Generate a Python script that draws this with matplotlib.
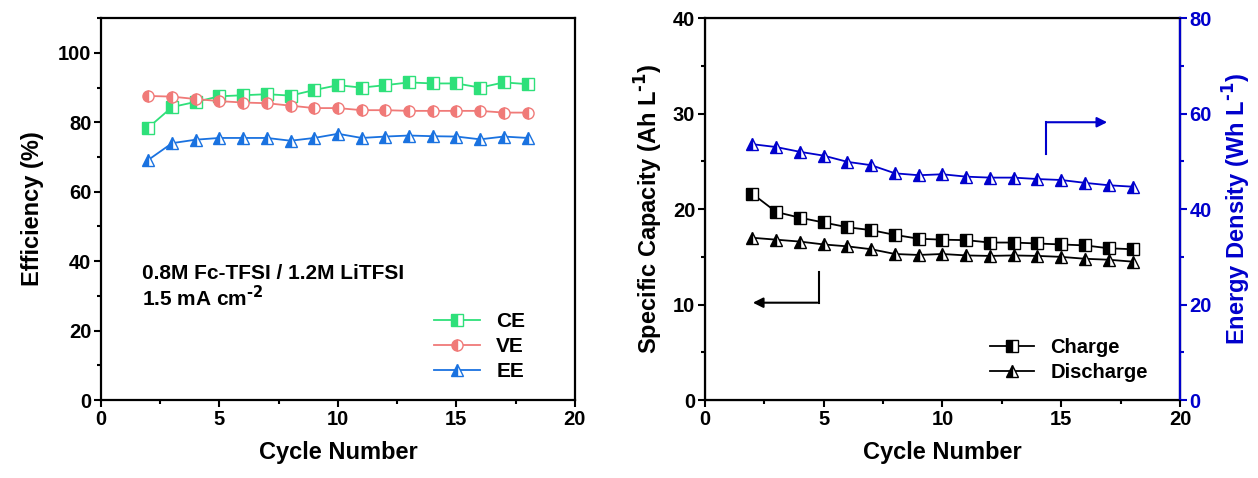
import matplotlib.pyplot as plt
import numpy as np
from matplotlib.ticker import MultipleLocator

plt.rcParams['font.family'] = ['Liberation Sans', 'DejaVu Sans']
plt.rcParams['font.weight'] = 'bold'
plt.rcParams['mathtext.default'] = 'bf'

cycles = list(range(2, 19))

ce = [78.5, 84.4, 85.9, 87.5, 87.8, 88.1, 87.7, 89.3, 90.7, 90.0, 90.7,
      91.5, 91.2, 91.2, 90.0, 91.5, 91.0]
ve = [87.6, 87.4, 86.7, 86.1, 85.7, 85.5, 84.8, 84.1, 84.1, 83.5, 83.5,
      83.3, 83.3, 83.3, 83.3, 82.8, 82.8]
ee = [69.2, 74.0, 75.0, 75.5, 75.5, 75.5, 74.7, 75.5, 76.7, 75.5, 75.9,
      76.2, 76.0, 75.9, 75.1, 75.9, 75.5]

charge = [21.6, 19.7, 19.1, 18.6, 18.1, 17.8, 17.3, 16.9, 16.8, 16.75, 16.5,
          16.5, 16.4, 16.3, 16.2, 15.9, 15.8]
discharge = [17.0, 16.8, 16.6, 16.3, 16.1, 15.8, 15.3, 15.2, 15.3, 15.15, 15.1,
             15.15, 15.1, 15.0, 14.8, 14.7, 14.5]
energy = [53.6, 53.0, 52.0, 51.2, 49.9, 49.2, 47.5, 47.1, 47.3, 46.8, 46.6,
          46.6, 46.3, 46.1, 45.5, 45.0, 44.7]

fig = plt.figure(figsize=(12.58, 4.78), dpi=100)
ax1 = fig.add_axes([0.0803, 0.163, 0.3767, 0.799])
ax2 = fig.add_axes([0.5604, 0.163, 0.3776, 0.799])

LAB = 17
TICK = 14.5

def style(ax, ymax, ymaj, ymin):
    ax.set_xlim(0, 20)
    ax.set_ylim(0, ymax)
    ax.xaxis.set_major_locator(MultipleLocator(5))
    ax.xaxis.set_minor_locator(MultipleLocator(2.5))
    ax.yaxis.set_major_locator(MultipleLocator(ymaj))
    ax.yaxis.set_minor_locator(MultipleLocator(ymin))
    ax.tick_params(which='major', direction='out', length=5, width=1.5, labelsize=TICK, pad=2)
    ax.tick_params(which='minor', direction='out', length=3, width=1.5)
    for s in ax.spines.values():
        s.set_linewidth(1.6)
    ax.set_xlabel('Cycle Number', fontsize=LAB, fontweight='bold', labelpad=9)

mk = dict(markersize=8, fillstyle='left', markerfacecoloralt='white', lw=1.3)

# left panel
style(ax1, 110, 20, 10)
ax1.set_yticks([0, 20, 40, 60, 80, 100])
ax1.plot(cycles, ce, marker='s', color='#2ee07a', label='CE', **mk)
ax1.plot(cycles, ve, marker='o', color='#f07a78', label='VE', **mk)
ax1.plot(cycles, ee, marker='^', color='#1a72e0', label='EE', **mk)
ax1.set_ylabel('Efficiency (%)', fontsize=LAB, fontweight='bold', labelpad=10)
ax1.text(1.75, 36.5, '0.8M Fc-TFSI / 1.2M LiTFSI', fontsize=15, fontweight='bold', va='center')
ax1.text(1.75, 29.5, '1.5 mA cm$^{\\text{-2}}$', fontsize=15, fontweight='bold', va='center')
ax1.legend(loc='lower right', frameon=False, fontsize=15, handlelength=2.2,
           labelspacing=0.3, bbox_to_anchor=(0.935, 0.0))

# right panel
style(ax2, 40, 10, 5)
l1, = ax2.plot(cycles, charge, marker='s', color='black', label='Charge', **mk)
l2, = ax2.plot(cycles, discharge, marker='^', color='black', label='Discharge', **mk)
ax2.set_ylabel('Specific Capacity (Ah L$^{\\text{-1}}$)', fontsize=LAB, fontweight='bold', labelpad=6)
ax2.legend(handles=[l1, l2], loc='lower right', frameon=False, fontsize=14.5,
           handlelength=2.2, labelspacing=0.3, bbox_to_anchor=(0.97, 0.0))

ax3 = ax2.twinx()
ax3.set_ylim(0, 80)
ax3.yaxis.set_major_locator(MultipleLocator(20))
ax3.yaxis.set_minor_locator(MultipleLocator(10))
ax3.tick_params(which='major', direction='out', length=5, width=1.5, labelsize=TICK,
                colors='#0000cc', pad=2)
ax3.tick_params(which='minor', direction='out', length=3, width=1.5, colors='#0000cc')
ax3.spines['right'].set_color('#0000cc')
ax3.spines['right'].set_linewidth(1.6)
ax3.plot(cycles, energy, marker='^', color='#0000cc', **mk)
ax3.set_ylabel('Energy Density (Wh L$^{\\text{-1}}$)', fontsize=LAB, fontweight='bold',
               color='#0000cc', labelpad=6)

# direction arrows
ax2.plot([4.8, 4.8], [13.4, 10.2], color='black', lw=1.5)
ax2.annotate('', xy=(1.9, 10.2), xytext=(4.85, 10.2),
             arrowprops=dict(arrowstyle='-|>', color='black', lw=1.5, mutation_scale=15))
ax3.plot([14.35, 14.35], [51.5, 58.2], color='#0000cc', lw=1.5)
ax3.annotate('', xy=(17.05, 58.2), xytext=(14.3, 58.2),
             arrowprops=dict(arrowstyle='-|>', color='#0000cc', lw=1.5, mutation_scale=15))

fig.savefig('out.png', dpi=100)
